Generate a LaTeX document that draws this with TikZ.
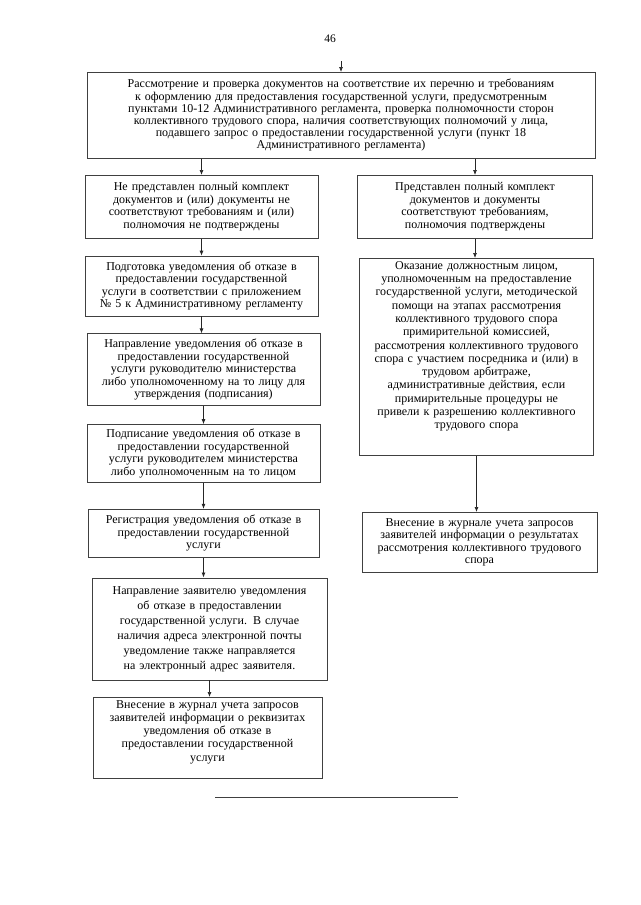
\documentclass[tikz,border=0pt]{standalone}
\usepackage{fontspec}
\setmainfont{Liberation Serif}
\usepackage{tikz}
\usetikzlibrary{arrows.meta, positioning, calc}

\begin{document}
\begin{tikzpicture}[x=1pt, y=-1pt, node distance=17pt,
        stage/.style={rectangle, draw=black!75, line width=0.7pt, align=center, inner sep=3pt,
            font=\fontsize{12}{12.5}\selectfont, anchor=north},
        line/.style={draw=black!85, -{Latex[length=5pt, width=4pt]}, line width=0.7pt}]

        \useasboundingbox (0,0) rectangle (640,905);

        \node (page) at (330,39) {\fontsize{11.5}{12}\selectfont 46};
        \coordinate (start) at (341,61);

        \node [stage, text width=502pt, minimum height=86pt, font=\fontsize{12}{12.2}\selectfont] (check) at (341,72) {Рассмотрение и проверка документов на соответствие их перечню и требованиям\\
        к оформлению для предоставления государственной услуги, предусмотренным\\
        пунктами 10-12 Административного регламента, проверка полномочности сторон\\
        коллективного трудового спора, наличия соответствующих полномочий у лица,\\
        подавшего запрос о предоставлении государственной услуги (пункт 18\\
        Административного регламента)};

        % left branch
        \node [stage, text width=227pt, minimum height=63pt] (fail) at (201.5,175) {Не представлен полный комплект\\
        документов и (или) документы не\\
        соответствуют требованиям и (или)\\
        полномочия не подтверждены};

        \node [stage, text width=227pt, minimum height=60pt, below=17pt of fail.south, anchor=north] (prep) {Подготовка уведомления об отказе в\\
        предоставлении государственной\\
        услуги в соответствии с приложением\\
        № 5 к Административному регламенту};

        \node [stage, text width=227pt, minimum height=72pt, below=17pt of prep.south, anchor=north, xshift=2pt] (send) {Направление уведомления об отказе в\\
        предоставлении государственной\\
        услуги руководителю министерства\\
        либо уполномоченному на то лицу для\\
        утверждения (подписания)};

        \node [stage, text width=227pt, minimum height=58pt, below=18pt of send.south, anchor=north] (sign) {Подписание уведомления об отказе в\\
        предоставлении государственной\\
        услуги руководителем министерства\\
        либо уполномоченным на то лицом};

        \node [stage, text width=225pt, minimum height=48pt, below=26pt of sign.south, anchor=north] (reg) {Регистрация уведомления об отказе в\\
        предоставлении государственной\\
        услуги};

        \node [stage, text width=229pt, minimum height=102pt, font=\fontsize{12}{15}\selectfont, below=20pt of reg.south, anchor=north, xshift=6pt] (notify) {Направление заявителю уведомления\\
        об отказе в предоставлении\\
        государственной услуги. В случае\\
        наличия адреса электронной почты\\
        уведомление также направляется\\
        на электронный адрес заявителя.};

        \node [stage, text width=223pt, text depth=67pt, font=\fontsize{12}{13.2}\selectfont] (logno) at (207.5,697) {Внесение в журнал учета запросов\\
        заявителей информации о реквизитах\\
        уведомления об отказе в\\
        предоставлении государственной\\
        услуги};

        % right branch
        \node [stage, text width=229pt, minimum height=63pt] (ok) at (475,175) {Представлен полный комплект\\
        документов и документы\\
        соответствуют требованиям,\\
        полномочия подтверждены};

        \node [stage, text width=228pt, text depth=183pt, font=\fontsize{12}{13.3}\selectfont] (help) at (476.5,258) {Оказание должностным лицом,\\
        уполномоченным на предоставление\\
        государственной услуги, методической\\
        помощи на этапах рассмотрения\\
        коллективного трудового спора\\
        примирительной комиссией,\\
        рассмотрения коллективного трудового\\
        спора с участием посредника и (или) в\\
        трудовом арбитраже,\\
        административные действия, если\\
        примирительные процедуры не\\
        привели к разрешению коллективного\\
        трудового спора};

        \node [stage, text width=229pt, minimum height=60pt] (logok) at (479.5,512) {Внесение в журнале учета запросов\\
        заявителей информации о результатах\\
        рассмотрения коллективного трудового\\
        спора};

        % closing rule
        \coordinate (ruleA) at (215,797);
        \coordinate (ruleB) at (458,797);
        \draw [black!75, line width=0.7pt] (ruleA) -- (ruleB);

        \path [line] (start) -- (check.north);
        \path [line] (fail.north |- check.south) -- (fail.north);
        \path [line] (ok.north |- check.south) -- (ok.north);
        \path [line] (fail) -- (fail |- prep.north);
        \path [line] (prep) -- (prep |- send.north);
        \path [line] (send) -- (sign);
        \path [line] (sign) -- (reg);
        \path [line] (reg) -- (reg |- notify.north);
        \path [line] (notify.south) -- (notify.south |- logno.north);
        \path [line] (ok) -- (ok |- help.north);
        \path [line] (help.south) -- (help.south |- logok.north);
    \end{tikzpicture}
\end{document}
